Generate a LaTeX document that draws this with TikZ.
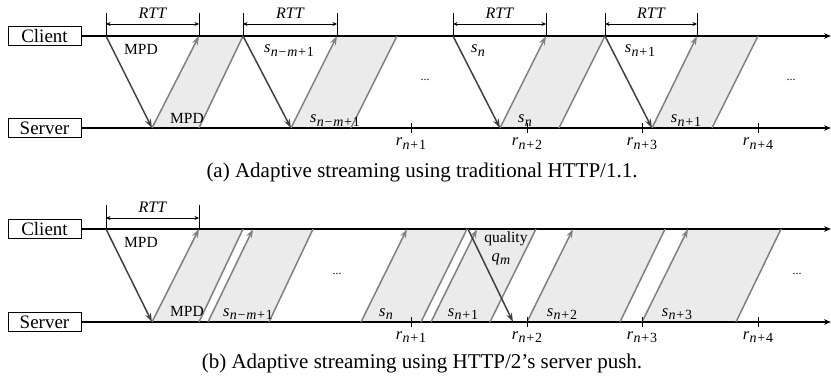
\documentclass[tikz,border=0pt]{standalone}
\usepackage{fontspec}
\setmainfont{Liberation Serif}
\usetikzlibrary{arrows.meta}
\definecolor{reqc}{gray}{0.25}
\definecolor{pushc}{gray}{0.5}
\definecolor{segc}{gray}{0.92}
\newcommand\vsym[2]{{\fontsize{16.5}{16.5}\selectfont\textit{#1}}\kern0.3pt\raisebox{-3.5pt}{\fontsize{14}{14}\selectfont #2}}
\newcommand\opm{\kern0.8pt−\kern0.8pt}
\newcommand\opp{\kern0.8pt+\kern0.8pt}
\begin{document}
\begin{tikzpicture}[x=1pt,y=-1pt,
  box/.style={draw, line width=1pt, minimum width=73pt, minimum height=19.5pt, inner sep=0pt, font=\fontsize{19}{19}\selectfont},
  axis/.style={line width=1.4pt, -{Stealth[length=7pt,width=5.5pt]}},
  req/.style={draw=reqc, line width=1.5pt, -{Stealth[length=9pt,width=6pt]}},
  push/.style={draw=pushc, line width=1.5pt, -{Stealth[length=9pt,width=6pt]}},
  segedge/.style={draw=pushc, line width=1.5pt},
  lbl/.style={font=\fontsize{15.5}{15.5}\selectfont, inner sep=0pt, anchor=base},
  rttlbl/.style={font=\fontsize{16}{16}\selectfont\itshape, inner sep=0pt, anchor=base},
  rtt/.style={line width=0.7pt, {Stealth[length=4.5pt,width=4pt]}-{Stealth[length=4.5pt,width=4pt]}},
  tickl/.style={line width=0.7pt},
  dots/.style={font=\fontsize{12}{12}\selectfont, inner sep=0pt},
  capt/.style={font=\fontsize{21}{21}\selectfont, inner sep=0pt, anchor=base}
]
\useasboundingbox (0,0) rectangle (831,381);

% ================= (a) =================
\node[box] (cA) at (44.5,36) {Client};
\node[box] (sA) at (44.5,128) {Server};
\coordinate (cAend) at (831,36);
\coordinate (sAend) at (831,128);

\foreach \n/\bl/\br/\tl/\tr in {1/152/199/199/243, 2/291/351/337/397, 3/500/559/546/605, 4/652/712/697/758} {
  \coordinate (A\n bl) at (\bl,128);
  \coordinate (A\n br) at (\br,128);
  \coordinate (A\n tl) at (\tl,36);
  \coordinate (A\n tr) at (\tr,36);
  \fill[segc] (A\n bl) -- (A\n br) -- (A\n tr) -- (A\n tl) -- cycle;
}
\draw[axis] (cA.east) -- (cAend);
\draw[axis] (sA.east) -- (sAend);
\foreach \n in {1,2,3,4} {
  \draw[segedge] (A\n br) -- (A\n tr);
  \draw[push] (A\n bl) -- (A\n tl);
}
\foreach \n/\s in {1/106, 2/243, 3/453, 4/605} {
  \coordinate (Aq\n) at (\s,36);
  \draw[req] (Aq\n) -- (A\n bl);
}
% RTT markers
\foreach \n/\s/\e in {1/106/199, 2/243/337, 3/453/546, 4/605/697} {
  \coordinate (ARs\n) at (\s,13);
  \coordinate (ARsb\n) at (\s,36);
  \coordinate (ARe\n) at (\e,13);
  \coordinate (AReb\n) at (\e,36);
  \coordinate (ARa\n) at (\s,24);
  \coordinate (ARb\n) at (\e,24);
  \draw[tickl] (ARs\n) -- (ARsb\n);
  \draw[tickl] (ARe\n) -- (AReb\n);
  \draw[rtt] (ARa\n) -- (ARb\n);
  \node[rttlbl] (ARl\n) at ({(\s+\e)/2},18.5) {RTT};
}
% r ticks
\foreach \x/\k in {411/1, 527/2, 642/3, 758/4} {
  \coordinate (Atk\k a) at (\x,123);
  \coordinate (Atk\k b) at (\x,133);
  \draw[tickl] (Atk\k a) -- (Atk\k b);
  \node[lbl] (Ar\k) at (\x,145.5) {\vsym{r}{\textit{n}\opp\k}};
}
% labels
\node[lbl] (Al1) at (141,54) {MPD};
\node[lbl] (Al2) at (187,123) {MPD};
\node[lbl] (Al3) at (289,52.5) {\vsym{s}{\textit{n}\opm\textit{m}\opp1}};
\node[lbl] (Al4) at (335,122.5) {\vsym{s}{\textit{n}\opm\textit{m}\opp1}};
\node[lbl] (Al5) at (478,52.5) {\vsym{s}{\textit{n}}};
\node[lbl] (Al6) at (525,122.5) {\vsym{s}{\textit{n}}};
\node[lbl] (Al7) at (640,52.5) {\vsym{s}{\textit{n}\opp1}};
\node[lbl] (Al8) at (686,122.5) {\vsym{s}{\textit{n}\opp1}};
\node[dots] (Ad1) at (425,80) {...};
\node[dots] (Ad2) at (791,80) {...};
\node[capt] (capA) at (422,177) {(a) Adaptive streaming using traditional HTTP/1.1.};

% ================= (b) =================
\node[box] (cB) at (44.5,229) {Client};
\node[box] (sB) at (44.5,322) {Server};
\coordinate (cBend) at (831,229);
\coordinate (sBend) at (831,322);

\foreach \n/\bl/\br/\tl/\tr in {1/152/199/199/243, 2/208/269/253/313, 3/361/421/407/467, 4/431/490/477/536, 5/527/620/573/665, 6/642/736/688/781} {
  \coordinate (B\n bl) at (\bl,322);
  \coordinate (B\n br) at (\br,322);
  \coordinate (B\n tl) at (\tl,229);
  \coordinate (B\n tr) at (\tr,229);
  \fill[segc] (B\n bl) -- (B\n br) -- (B\n tr) -- (B\n tl) -- cycle;
}
\draw[axis] (cB.east) -- (cBend);
\draw[axis] (sB.east) -- (sBend);
\foreach \n in {1,...,6} {
  \draw[segedge] (B\n br) -- (B\n tr);
  \draw[push] (B\n bl) -- (B\n tl);
}
\coordinate (Bq1) at (106,229);
\draw[req] (Bq1) -- (B1bl);
\coordinate (Bq2) at (468,229);
\coordinate (Bq2e) at (513,322);
\draw[req] (Bq2) -- (Bq2e);
% RTT
\coordinate (BRs) at (106,205);
\coordinate (BRsb) at (106,229);
\coordinate (BRe) at (199,205);
\coordinate (BReb) at (199,229);
\coordinate (BRa) at (106,218);
\coordinate (BRb) at (199,218);
\draw[tickl] (BRs) -- (BRsb);
\draw[tickl] (BRe) -- (BReb);
\draw[rtt] (BRa) -- (BRb);
\node[rttlbl] (BRl) at (152.5,212.5) {RTT};
% r ticks
\foreach \x/\k in {411/1, 527/2, 642/3, 758/4} {
  \coordinate (Btk\k a) at (\x,317);
  \coordinate (Btk\k b) at (\x,327);
  \draw[tickl] (Btk\k a) -- (Btk\k b);
  \node[lbl] (Br\k) at (\x,339) {\vsym{r}{\textit{n}\opp\k}};
}
% labels
\node[lbl] (Bl1) at (141,247) {MPD};
\node[lbl] (Bl2) at (187,316.5) {MPD};
\node[lbl] (Bl3) at (248,316) {\vsym{s}{\textit{n}\opm\textit{m}\opp1}};
\node[lbl] (Bl4) at (386,316) {\vsym{s}{\textit{n}}};
\node[lbl] (Bl5) at (463,316) {\vsym{s}{\textit{n}\opp1}};
\node[lbl] (Bl6) at (562,316) {\vsym{s}{\textit{n}\opp2}};
\node[lbl] (Bl7) at (677,316) {\vsym{s}{\textit{n}\opp3}};
\node[lbl] (Bq) at (506,242) {quality};
\node[lbl] (Bqm) at (501,261) {\vsym{q}{\textit{m}}};
\node[dots] (Bd1) at (337,274) {...};
\node[dots] (Bd2) at (797,274) {...};
\node[capt] (capB) at (422,368) {(b) Adaptive streaming using HTTP/2’s server push.};
\end{tikzpicture}
\end{document}
